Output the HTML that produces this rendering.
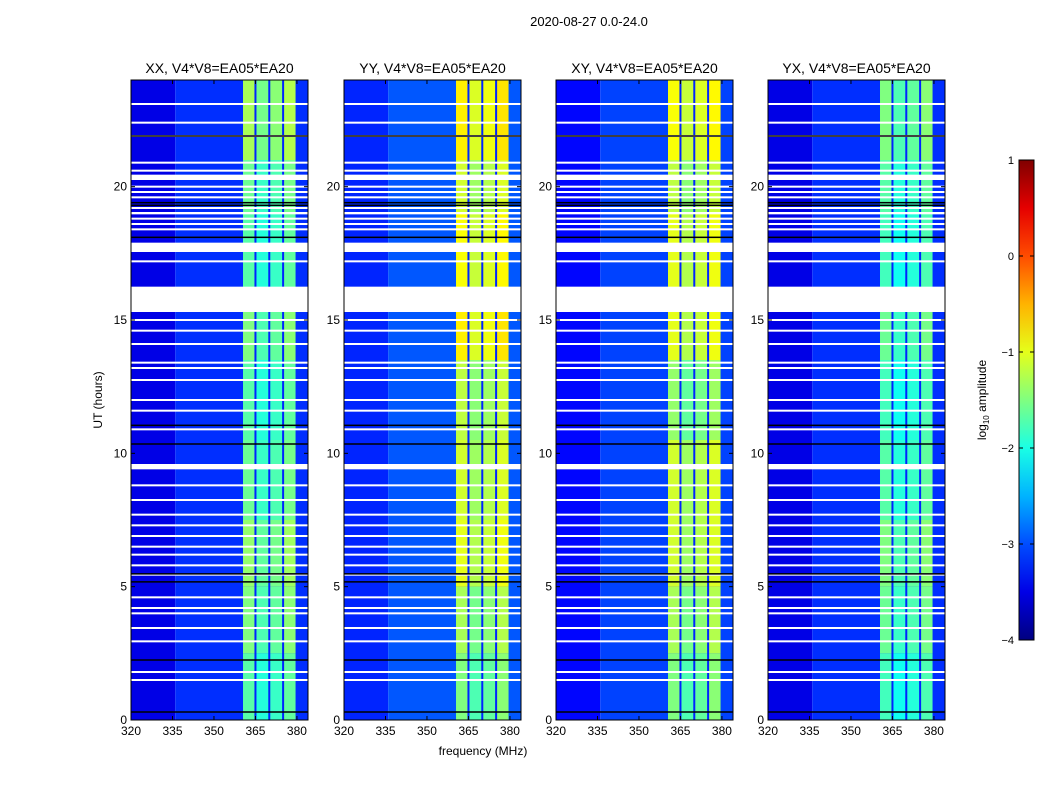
<!DOCTYPE html>
<html><head><meta charset="utf-8">
<style>
body{margin:0;background:#fff;font-family:"Liberation Sans",sans-serif;}
svg text{font-family:"Liberation Sans",sans-serif;}
</style></head>
<body>
<svg id="fig" width="1050" height="800" viewBox="0 0 1050 800" xmlns="http://www.w3.org/2000/svg">
<text x="589" y="26" font-size="13" text-anchor="middle">2020-08-27 0.0-24.0</text>
<text x="483" y="755" font-size="12" text-anchor="middle">frequency (MHz)</text>
<text x="102" y="400" font-size="12" text-anchor="middle" transform="rotate(-90 102 400)">UT (hours)</text>
<g id="panels"></g>
<g id="cbar"></g>
</svg>
<script>
const panelTitles = ["XX, V4*V8=EA05*EA20","YY, V4*V8=EA05*EA20","XY, V4*V8=EA05*EA20","YX, V4*V8=EA05*EA20"];
const xTicks = [320,335,350,365,380];
const yTicks = [0,5,10,15,20];
const cbTicks = [-4,-3,-2,-1,0,1];
// background log10 amplitude per panel: [low-freq (320-335), rest]
const bgLevels = [[-3.5,-3.15],[-3.2,-2.95],[-3.35,-3.05],[-3.5,-3.15]];
// band channel edges (MHz)
const bandEdges = [360.5,365,370,375,379.5];
// time segments (hours)
const segStart = [0,2.5,5,7.5,10.5,13.5,16.2,19,21];
const segEnd   = [2.5,5,7.5,10.5,13.5,15.3,19,21,24];
const bandXX = [-1.8,-1.6,-1.5,-1.7,-1.8,-1.6,-1.8,-1.7,-1.4];
const bandYY = [-1.6,-1.4,-1.1,-1.2,-1.3,-0.9,-1.0,-1.2,-0.9];
const bandXY = [-1.6,-1.4,-1.2,-1.2,-1.5,-1.1,-1.1,-1.3,-1.0];
const bandYX = [-1.9,-1.7,-1.6,-1.8,-1.9,-1.7,-1.9,-1.8,-1.6];
const bandLevels = [bandXX,bandYY,bandXY,bandYX];
const chanOffset = [0.1,-0.15,-0.05,0.15];
// flagged (white) intervals in hours
const gapStart = [15.3,9.4,20.25,17.55,19.0];
const gapEnd   = [16.25,9.6,20.45,17.9,19.05];
// thin white flag lines (hours)
const whiteLines = [23.1,22.4,21.9,20.9,20.6,20.0,19.8,19.6,19.2,19.0,18.8,18.6,18.4,17.2,15.0,14.6,14.1,13.4,13.2,12.75,12.0,11.6,10.9,8.8,8.25,7.7,7.3,6.9,6.5,6.2,5.8,5.45,4.6,4.2,4.0,3.45,2.95,1.8,1.5];
// black (zero) lines (hours)
const blackLines = [21.9,19.4,19.3,18.1,11.05,10.35,5.48,5.18,2.25,0.3];

const NS="http://www.w3.org/2000/svg";
const panelX=[131,344,556,768], PW=177, PT=80, PB=720;
function jet(v){let t=Math.max(0,Math.min(1,(v+4)/5));const c=x=>Math.round(255*Math.max(0,Math.min(1,x)));
return `rgb(${c(1.5-Math.abs(4*t-3))},${c(1.5-Math.abs(4*t-2))},${c(1.5-Math.abs(4*t-1))})`;}
function mk(tag,attrs,parent){const e=document.createElementNS(NS,tag);for(const k in attrs)e.setAttribute(k,attrs[k]);parent.appendChild(e);return e;}
const yS=h=>PB-(PB-PT)*h/24;
const root=document.getElementById('panels');
panelTitles.forEach((title,p)=>{
  const x0=panelX[p];
  const xS=f=>x0+(f-320)*(PW/64);
  const g=mk('g',{},root);
  
  
  const bg1=mk('rect',{x:x0,y:PT,width:xS(336)-x0,height:PB-PT,fill:jet(bgLevels[p][0])},g);
  
  
  const bg2=mk('rect',{x:xS(336),y:PT,width:x0+PW-xS(336),height:PB-PT,fill:jet(bgLevels[p][1])},g);
  
  
  segStart.forEach((s,i)=>{
    for(let c=0;c<4;c++){
      const r=mk('rect',{x:xS(bandEdges[c]),y:yS(segEnd[i]),width:xS(bandEdges[c+1])-xS(bandEdges[c]),height:yS(s)-yS(segEnd[i]),fill:jet(bandLevels[p][i]+chanOffset[c])},g);
      
      
    }
  });
  for(let c=1;c<4;c++){
    const l=mk('rect',{x:xS(bandEdges[c])-1,y:PT,width:2,height:PB-PT,fill:jet(-3.2)},g);
    
    
  }
  whiteLines.forEach(h=>{const l=mk('rect',{x:x0,y:yS(h)-1,width:PW,height:2,fill:'#fff'},g);
    
    });
  blackLines.forEach(h=>{const l=mk('rect',{x:x0,y:yS(h)-0.75,width:PW,height:1.5,fill:'#000'},g);
    
    });
  gapStart.forEach((s,i)=>{const r=mk('rect',{x:x0,y:yS(gapEnd[i]),width:PW,height:yS(s)-yS(gapEnd[i]),fill:'#fff'},g);
    
    });
  const fr=mk('rect',{x:x0,y:PT,width:PW,height:PB-PT,fill:'none',stroke:'#000','stroke-width':1},g);
  
  
  const t=mk('text',{x:x0+PW/2,y:73,'font-size':14,'text-anchor':'middle'},g);t.textContent=title;
  
  
  xTicks.forEach(f=>{const x=xS(f);
    mk('line',{x1:x,x2:x,y1:PB,y2:PB-4,stroke:'#000'},g);mk('line',{x1:x,x2:x,y1:PT,y2:PT+4,stroke:'#000'},g);
    const tx=mk('text',{x:x,y:PB+15,'font-size':12,'text-anchor':'middle'},g);tx.textContent=f;
    
    });
  yTicks.forEach(h=>{const y=yS(h);
    mk('line',{x1:x0,x2:x0+4,y1:y,y2:y,stroke:'#000'},g);mk('line',{x1:x0+PW,x2:x0+PW-4,y1:y,y2:y,stroke:'#000'},g);
    const ty=mk('text',{x:x0-4,y:y+4,'font-size':12,'text-anchor':'end'},g);ty.textContent=h;
    
    });
});
// colorbar
const cb=document.getElementById('cbar');
const CX=1019,CW=15,CT=160,CB=640;
const defs=mk('defs',{},cb);
const lg=mk('linearGradient',{id:'jetg',x1:0,y1:1,x2:0,y2:0},defs);
for(let i=0;i<=10;i++){mk('stop',{offset:i/10,'stop-color':jet(-4+5*i/10)},lg);}
mk('rect',{x:CX,y:CT,width:CW,height:CB-CT,fill:'url(#jetg)',stroke:'#000'},cb);
cbTicks.forEach(v=>{const y=CB-(CB-CT)*(v+4)/5;
  mk('line',{x1:CX,x2:CX+4,y1:y,y2:y,stroke:'#000'},cb);mk('line',{x1:CX+CW,x2:CX+CW-4,y1:y,y2:y,stroke:'#000'},cb);
  const t=mk('text',{x:CX-5,y:y+4,'font-size':11,'text-anchor':'end'},cb);t.textContent=(v<0?'\u2212'+(-v):v);
  
  });
const cl=mk('text',{x:986,y:400,'font-size':12,'text-anchor':'middle',transform:'rotate(-90 986 400)'},cb);
cl.innerHTML='log<tspan font-size="8" dy="3">10</tspan><tspan dy="-3"> amplitude</tspan>';


</script>
</body></html>
